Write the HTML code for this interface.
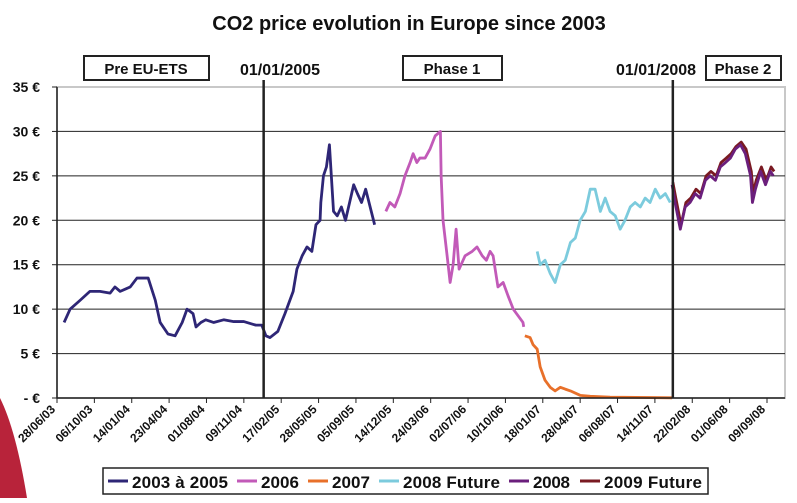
<!DOCTYPE html>
<html><head><meta charset="utf-8"><style>
body{margin:0;width:797px;height:498px;background:#fff;overflow:hidden;font-family:"Liberation Sans",sans-serif}
svg text{font-family:"Liberation Sans",sans-serif;font-weight:bold;fill:#111}
</style></head><body>
<svg id="c" width="797" height="498">
<path d="M0,398 Q16,430 27,498 L0,498 Z" fill="#b8233a"/>
<text x="409" y="30" font-size="20" text-anchor="middle">CO2 price evolution in Europe since 2003</text>
<g id="grid"></g><g id="series"></g><g id="axes"></g>
<g>
<rect x="84" y="56" width="125" height="24" fill="#fff" stroke="#222" stroke-width="2"/>
<text x="146" y="74" font-size="15" text-anchor="middle">Pre EU-ETS</text>
<text x="280" y="75" font-size="16" text-anchor="middle">01/01/2005</text>
<rect x="403" y="56" width="99" height="24" fill="#fff" stroke="#222" stroke-width="2"/>
<text x="452" y="74" font-size="15" text-anchor="middle">Phase 1</text>
<text x="656" y="75" font-size="16" text-anchor="middle">01/01/2008</text>
<rect x="706" y="56" width="75" height="24" fill="#fff" stroke="#222" stroke-width="2"/>
<text x="743" y="74" font-size="15" text-anchor="middle">Phase 2</text>
</g>
<g id="legend"><rect x="103" y="468" width="605" height="26" fill="#fff" stroke="#222" stroke-width="1.5"/></g>
</svg>
<script>
const yTicks=[0,5,10,15,20,25,30,35];
const yLabels=["- €","5 €","10 €","15 €","20 €","25 €","30 €","35 €"];
const xLabels=["28/06/03","06/10/03","14/01/04","23/04/04","01/08/04","09/11/04","17/02/05","28/05/05","05/09/05","14/12/05","24/03/06","02/07/06","10/10/06","18/01/07","28/04/07","06/08/07","14/11/07","22/02/08","01/06/08","09/09/08"];
const markerDays=[553,1648];
const seriesNames=["2003 à 2005","2006","2007","2008 Future","2008","2009 Future"];
const seriesColors=["#2e2676","#c25ab8","#e8702a","#7ccbdd","#6b1f7c","#7a1a22"];
const days0=[19,35,62,88,115,142,155,169,196,214,244,263,276,297,316,335,348,364,372,385,398,419,446,473,500,532,548,559,570,591,610,632,642,656,669,682,693,704,706,713,721,729,740,750,761,772,783,794,804,815,826,850];
const vals0=[8.5,10,11,12,12,11.8,12.5,12,12.5,13.5,13.5,11,8.5,7.2,7,8.5,10,9.5,8,8.5,8.8,8.5,8.8,8.6,8.6,8.2,8.2,7,6.8,7.5,9.5,12,14.5,16,17,16.5,19.5,20,22,25,26,28.5,21,20.5,21.5,20,22,24,23,22,23.5,19.5];
const days1=[880,891,904,918,931,945,953,963,971,985,998,1012,1026,1028,1033,1044,1052,1060,1068,1076,1092,1111,1124,1138,1149,1159,1167,1180,1194,1207,1221,1247,1249];
const vals1=[21,22,21.5,23,25,26.5,27.5,26.5,27,27,28,29.5,30,25,20,16,13,15,19,14.5,16,16.5,17,16,15.5,16.5,16,12.5,13,11.5,10,8.5,8];
const days2=[1252,1266,1274,1285,1293,1306,1320,1333,1347,1360,1374,1400,1427,1480,1587,1646];
const vals2=[7,6.8,6,5.5,3.5,2,1.2,0.8,1.2,1,0.8,0.3,0.2,0.1,0.05,0.02];
const days3=[1285,1293,1306,1320,1333,1347,1360,1374,1387,1400,1414,1427,1440,1454,1467,1480,1494,1507,1520,1534,1547,1561,1574,1587,1601,1614,1628,1641];
const vals3=[16.5,15,15.5,14,13,15,15.5,17.5,18,20,21,23.5,23.5,21,22.5,21,20.5,19,20,21.5,22,21.5,22.5,22,23.5,22.5,23,22];
const days4=[1646,1654,1668,1681,1694,1708,1721,1735,1748,1762,1775,1789,1802,1815,1829,1842,1856,1861,1869,1883,1896,1909,1917];
const vals4=[24,22,19,21.5,22,23,22.5,24.5,25,24.5,26,26.5,27,28,28.5,27.5,25,22,23.5,25.5,24,25.5,25];
const days5=[1648,1656,1670,1683,1696,1710,1723,1737,1750,1764,1777,1791,1804,1817,1831,1844,1858,1863,1871,1885,1898,1911,1919];
const vals5=[24.3,22.5,19.5,22,22.5,23.5,23,25,25.5,25,26.5,27,27.5,28.3,28.8,28,25.5,23,24.5,26,24.5,26,25.5];
const NS="http://www.w3.org/2000/svg";
const X0=57,X1=785,Y0=398,Y1=87,DAYSPAN=100*(xLabels.length-1);
const xs=d=>X0+d*(767-X0)/DAYSPAN;
const ys=v=>Y0-v*(Y0-Y1)/35;
function mk(t,a,p){const e=document.createElementNS(NS,t);for(const k in a)e.setAttribute(k,a[k]);p.appendChild(e);return e;}
const grid=document.getElementById('grid'),axes=document.getElementById('axes'),ser=document.getElementById('series'),leg=document.getElementById('legend');
mk('rect',{x:X0,y:Y1,width:X1-X0,height:Y0-Y1,fill:'none',stroke:'#c8c8c8','stroke-width':2},grid);
yTicks.forEach((v,i)=>{
 if(v>0&&v<35){const l=mk('line',{x1:X0,x2:X1,y1:ys(v),y2:ys(v),stroke:'#222','stroke-width':1},grid);
 
 }
 mk('line',{x1:X0-5,x2:X0,y1:ys(v),y2:ys(v),stroke:'#222'},axes);
 const t=mk('text',{x:X0-17,y:ys(v)+5,'font-size':14,'text-anchor':'end'},axes);t.textContent=yLabels[i];
 
 
});
mk('line',{x1:X0,x2:X0,y1:Y1,y2:Y0,stroke:'#222','stroke-width':1.5},axes);
mk('line',{x1:X0,x2:X1,y1:Y0,y2:Y0,stroke:'#222','stroke-width':1.5},axes);
xLabels.forEach((s,i)=>{const x=xs(i*100);
 mk('line',{x1:x,x2:x,y1:Y0,y2:Y0+5,stroke:'#222'},axes);
 const t=mk('text',{x:x-1,y:Y0+12,'font-size':12,'text-anchor':'end',transform:`rotate(-45 ${x-1} ${Y0+12})`},axes);t.textContent=s;
 
 
});
markerDays.forEach(d=>{const l=mk('line',{x1:xs(d),x2:xs(d),y1:80,y2:Y0,stroke:'#222','stroke-width':2.5},axes);
 
 });
const D=[days0,days1,days2,days3,days4,days5],V=[vals0,vals1,vals2,vals3,vals4,vals5];
[0,1,2,3,5,4].forEach(k=>{
 const p=mk('polyline',{points:D[k].map((d,i)=>xs(d)+','+ys(V[k][i])).join(' '),fill:'none',stroke:seriesColors[k],'stroke-width':2.8,'stroke-linejoin':'round'},ser);
 
 
});
const legX=[108,237,308,379,509,580];
seriesNames.forEach((n,k)=>{
 const x=legX[k];
 mk('line',{x1:x,x2:x+20,y1:481,y2:481,stroke:seriesColors[k],'stroke-width':3},leg);
 const t=mk('text',{x:x+24,y:488,'font-size':17,textLength:[96,38,38,97,37,98][k]},leg);t.textContent=n;
 
 
});
</script>
</body></html>
